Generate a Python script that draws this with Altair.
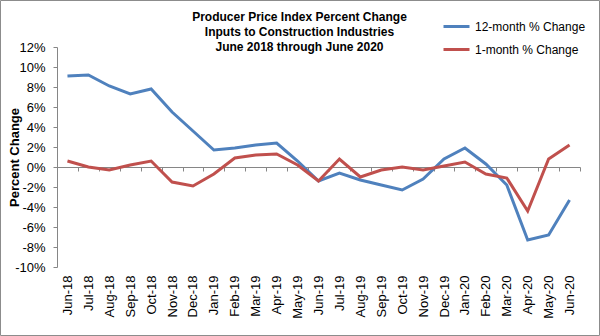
import altair as alt
import pandas as pd

months = ["Jun-18", "Jul-18", "Aug-18", "Sep-18", "Oct-18", "Nov-18", "Dec-18",
          "Jan-19", "Feb-19", "Mar-19", "Apr-19", "May-19", "Jun-19", "Jul-19",
          "Aug-19", "Sep-19", "Oct-19", "Nov-19", "Dec-19", "Jan-20", "Feb-20",
          "Mar-20", "Apr-20", "May-20", "Jun-20"]
twelve_month = [9.1, 9.2, 8.1, 7.3, 7.8, 5.5, 3.6, 1.7, 1.9, 2.2, 2.4, 0.6, -1.4,
                -0.6, -1.3, -1.8, -2.3, -1.2, 0.8, 1.9, 0.3, -1.8, -7.3, -6.8, -3.3]
one_month = [0.6, 0.0, -0.3, 0.2, 0.6, -1.5, -1.9, -0.7, 0.9, 1.2, 1.3, 0.2, -1.4,
             0.8, -1.0, -0.3, 0.0, -0.3, 0.1, 0.5, -0.7, -1.1, -4.4, 0.8, 2.2]
series_names = ["12-month % Change", "1-month % Change"]
series_colors = ["#4F81BD", "#C0504D"]
y_ticks = list(range(-10, 13, 2))
title_lines = ["Producer Price Index Percent Change",
               "Inputs to Construction Industries",
               "June 2018 through June 2020"]

rows = []
for m, a, b in zip(months, twelve_month, one_month):
    rows.append({"month": m, "series": series_names[0], "value": a})
    rows.append({"month": m, "series": series_names[1], "value": b})
df = pd.DataFrame(rows)

FONT = "Liberation Sans"
AXIS_GRAY = "#868686"

lines = alt.Chart(df).mark_line(strokeWidth=3).encode(
    x=alt.X("month:N", sort=months, bandPosition=0.5,
            scale=alt.Scale(type="band", paddingInner=0, paddingOuter=0),
            axis=alt.Axis(title=None, orient="bottom", offset=-100,
                          labelAngle=-90, labelPadding=104, labelFontSize=13,
                          labelFont=FONT, labelColor="black",
                          tickBand="extent", tickSize=4, tickColor=AXIS_GRAY,
                          domainColor=AXIS_GRAY, labelBaseline="middle",
                          labelAlign="right")),
    y=alt.Y("value:Q", scale=alt.Scale(domain=[-10, 12], nice=False, zero=False),
            axis=alt.Axis(values=y_ticks, labelExpr="datum.value + '%'",
                          grid=False, tickSize=4, labelPadding=8,
                          labelFontSize=13, labelFont=FONT, labelColor="black",
                          tickColor=AXIS_GRAY, domainColor=AXIS_GRAY,
                          title="Percent Change", titleFont=FONT,
                          titleFontSize=13, titleFontWeight="bold",
                          titleColor="black", titleX=-43, titleY=110,
                          titleAngle=-90, titleBaseline="middle",
                          titleAlign="center")),
    color=alt.Color("series:N", sort=series_names,
                    scale=alt.Scale(domain=series_names, range=series_colors),
                    legend=alt.Legend(title=None, orient="none", legendX=385,
                                      legendY=-35, symbolType="stroke",
                                      symbolSize=676, symbolStrokeWidth=3,
                                      labelFont=FONT, labelFontSize=12,
                                      labelColor="black", rowPadding=2,
                                      labelOffset=4, padding=0)),
)

frame = alt.Chart(pd.DataFrame({"f": [0]})).mark_rect(
    fill=None, stroke="#8c8c8c", strokeWidth=1
).encode(
    x=alt.value(-56.5), x2=alt.value(542.5),
    y=alt.value(-46.5), y2=alt.value(288.5),
)

chart = alt.layer(frame, lines).properties(
    width=523, height=220,
    autosize=alt.AutoSizeParams(type="none"),
    padding={"left": 57, "top": 47, "right": 20, "bottom": 69},
    title=alt.TitleParams(text=title_lines, font=FONT, fontSize=12,
                          fontWeight="bold", color="black", anchor="middle",
                          lineHeight=14.8, dx=-19, offset=-54),
    background="white",
).configure_view(stroke=None)

chart.save("out.html", embed_options={"renderer": "svg", "actions": False})
